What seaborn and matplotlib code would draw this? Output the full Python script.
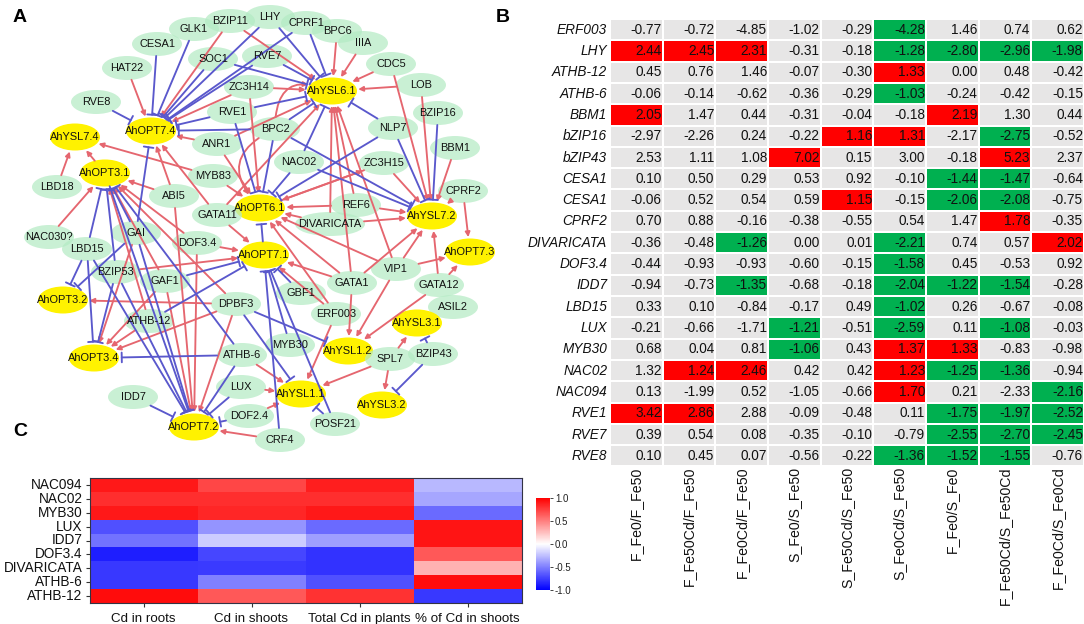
import numpy as np
import pandas as pd
import matplotlib
matplotlib.use("Agg")
import matplotlib.pyplot as plt
from matplotlib.colors import ListedColormap
from matplotlib.patches import Ellipse, FancyArrowPatch
import seaborn as sns

sns.set_theme(style="white")
plt.rcParams['font.family'] = ['Liberation Sans', 'DejaVu Sans']

# ---------- Panel B data ----------
b_genes = ["ERF003", "LHY", "ATHB-12", "ATHB-6", "BBM1", "bZIP16", "bZIP43", "CESA1", "CESA1", "CPRF2",
           "DIVARICATA", "DOF3.4", "IDD7", "LBD15", "LUX", "MYB30", "NAC02", "NAC094", "RVE1", "RVE7", "RVE8"]
b_comparisons = ["F_Fe0/F_Fe50", "F_Fe50Cd/F_Fe50", "F_Fe0Cd/F_Fe50", "S_Fe0/S_Fe50", "S_Fe50Cd/S_Fe50",
                 "S_Fe0Cd/S_Fe50", "F_Fe0/S_Fe0", "F_Fe50Cd/S_Fe50Cd", "F_Fe0Cd/S_Fe0Cd"]
b_values = [
    [-0.77, -0.72, -4.85, -1.02, -0.29, -4.28, 1.46, 0.74, 0.62],
    [2.44, 2.45, 2.31, -0.31, -0.18, -1.28, -2.80, -2.96, -1.98],
    [0.45, 0.76, 1.46, -0.07, -0.30, 1.33, 0.00, 0.48, -0.42],
    [-0.06, -0.14, -0.62, -0.36, -0.29, -1.03, -0.24, -0.42, -0.15],
    [2.05, 1.47, 0.44, -0.31, -0.04, -0.18, 2.19, 1.30, 0.44],
    [-2.97, -2.26, 0.24, -0.22, 1.16, 1.31, -2.17, -2.75, -0.52],
    [2.53, 1.11, 1.08, 7.02, 0.15, 3.00, -0.18, 5.23, 2.37],
    [0.10, 0.50, 0.29, 0.53, 0.92, -0.10, -1.44, -1.47, -0.64],
    [-0.06, 0.52, 0.54, 0.59, 1.15, -0.15, -2.06, -2.08, -0.75],
    [0.70, 0.88, -0.16, -0.38, -0.55, 0.54, 1.47, 1.78, -0.35],
    [-0.36, -0.48, -1.26, 0.00, 0.01, -2.21, 0.74, 0.57, 2.02],
    [-0.44, -0.93, -0.93, -0.60, -0.15, -1.58, 0.45, -0.53, 0.92],
    [-0.94, -0.73, -1.35, -0.68, -0.18, -2.04, -1.22, -1.54, -0.28],
    [0.33, 0.10, -0.84, -0.17, 0.49, -1.02, 0.26, -0.67, -0.08],
    [-0.21, -0.66, -1.71, -1.21, -0.51, -2.59, 0.11, -1.08, -0.03],
    [0.68, 0.04, 0.81, -1.06, 0.43, 1.37, 1.33, -0.83, -0.98],
    [1.32, 1.24, 2.46, 0.42, 0.42, 1.23, -1.25, -1.36, -0.94],
    [0.13, -1.99, 0.52, -1.05, -0.66, 1.70, 0.21, -2.33, -2.16],
    [3.42, 2.86, 2.88, -0.09, -0.48, 0.11, -1.75, -1.97, -2.52],
    [0.39, 0.54, 0.08, -0.35, -0.10, -0.79, -2.55, -2.70, -2.45],
    [0.10, 0.45, 0.07, -0.56, -0.22, -1.36, -1.52, -1.55, -0.76],
]
# highlight: 1 up (red), -1 down (green), 0 not highlighted
b_flags = [
    [0, 0, 0, 0, 0, -1, 0, 0, 0],
    [1, 1, 1, 0, 0, -1, -1, -1, -1],
    [0, 0, 0, 0, 0, 1, 0, 0, 0],
    [0, 0, 0, 0, 0, -1, 0, 0, 0],
    [1, 0, 0, 0, 0, 0, 1, 0, 0],
    [0, 0, 0, 0, 1, 1, 0, -1, 0],
    [0, 0, 0, 1, 0, 0, 0, 1, 0],
    [0, 0, 0, 0, 0, 0, -1, -1, 0],
    [0, 0, 0, 0, 1, 0, -1, -1, 0],
    [0, 0, 0, 0, 0, 0, 0, 1, 0],
    [0, 0, -1, 0, 0, -1, 0, 0, 1],
    [0, 0, 0, 0, 0, -1, 0, 0, 0],
    [0, 0, -1, 0, 0, -1, -1, -1, 0],
    [0, 0, 0, 0, 0, -1, 0, 0, 0],
    [0, 0, 0, -1, 0, -1, 0, -1, 0],
    [0, 0, 0, -1, 0, 1, 1, 0, 0],
    [0, 1, 1, 0, 0, 1, -1, -1, 0],
    [0, 0, 0, 0, 0, 1, 0, 0, -1],
    [1, 1, 0, 0, 0, 0, -1, -1, -1],
    [0, 0, 0, 0, 0, 0, -1, -1, -1],
    [0, 0, 0, 0, 0, -1, -1, -1, 0],
]

# ---------- Panel C data ----------
c_genes = ["NAC094", "NAC02", "MYB30", "LUX", "IDD7", "DOF3.4", "DIVARICATA", "ATHB-6", "ATHB-12"]
c_traits = ["Cd in roots", "Cd in shoots", "Total Cd in plants", "% of Cd in shoots"]
c_values = [
    [0.90, 0.72, 0.88, -0.28],
    [0.82, 0.82, 0.82, -0.35],
    [0.90, 0.85, 0.90, -0.58],
    [-0.68, -0.42, -0.58, 0.92],
    [-0.55, -0.20, -0.38, 0.92],
    [-0.88, -0.72, -0.80, 0.65],
    [-0.78, -0.77, -0.80, 0.30],
    [-0.78, -0.50, -0.68, 0.95],
    [0.95, 0.65, 0.80, -0.78],
]

# ---------- Panel A data ----------
transporters = ["AhOPT7.4", "AhYSL7.4", "AhOPT3.1", "AhYSL6.1", "AhOPT6.1", "AhYSL7.2", "AhOPT7.3", "AhOPT7.1",
                "AhOPT3.2", "AhOPT3.4", "AhOPT7.2", "AhYSL1.1", "AhYSL1.2", "AhYSL3.1", "AhYSL3.2"]
activates = {
    "AhOPT7.4": ["HAT22", "BZIP11", "ZC3H14", "ANR1", "ABI5", "GATA11"],
    "AhYSL7.4": ["LBD18", "AhOPT3.1", "MYB83"],
    "AhOPT3.1": ["NAC030?", "ABI5", "GAF1", "ATHB-12", "DOF3.4", "DPBF3"],
    "AhYSL6.1": ["BZIP11", "BPC6", "IIIA", "CDC5", "LOB", "ZC3H14", "ANR1", "GATA11", "REF6", "GATA1", "VIP1", "DIVARICATA"],
    "AhOPT6.1": ["ZC3H14", "ANR1", "MYB83", "DIVARICATA", "REF6", "GATA1", "ERF003", "VIP1", "ZC3H15"],
    "ZC3H15": ["AhOPT6.1"],
    "AhYSL7.2": ["CDC5", "LOB", "BBM1", "CPRF2", "ZC3H15", "REF6", "DIVARICATA", "GATA1", "VIP1", "GATA12"],
    "AhOPT7.3": ["CPRF2", "VIP1", "GATA12"],
    "AhOPT7.1": ["DOF3.4", "BZIP53", "GATA11", "GATA1", "ERF003"],
    "AhOPT3.2": ["DPBF3"],
    "AhOPT3.4": ["GAF1", "ATHB-12", "DPBF3", "GAI"],
    "AhOPT7.2": ["GAF1", "DOF3.4", "DPBF3", "ABI5", "CRF4"],
    "AhYSL1.1": ["SPL7", "ERF003", "ATHB-6", "LUX", "DOF2.4"],
    "AhYSL1.2": ["GATA1", "VIP1", "GATA12"],
    "AhYSL3.1": ["SPL7"],
    "AhYSL3.2": ["SPL7"],
}
represses = {
    "AhOPT7.4": ["RVE8", "CESA1", "GLK1", "SOC1", "LHY", "CPRF1", "RVE1", "RVE7", "BPC2", "GAI"],
    "AhOPT3.1": ["LBD15", "GAI", "BZIP53", "ATHB-6"],
    "AhYSL6.1": ["RVE7", "LHY", "CPRF1", "SOC1", "RVE1", "BPC2", "NAC02", "NLP7"],
    "AhOPT6.1": ["NAC02", "BPC2", "RVE1", "NLP7", "AhOPT7.1"],
    "AhYSL7.2": ["BZIP16", "NLP7", "NAC02", "BPC2"],
    "AhOPT7.1": ["GAF1", "ATHB-12", "GBF1", "MYB30", "CRF4", "POSF21"],
    "AhOPT3.2": ["LBD15", "GAI"],
    "AhOPT3.4": ["LBD15", "BZIP53", "ATHB-6"],
    "AhOPT7.2": ["IDD7", "LBD15", "BZIP53", "GAI", "ATHB-6", "LUX", "DOF2.4", "AhOPT3.1"],
    "AhYSL1.1": ["DPBF3", "POSF21"],
    "AhYSL1.2": ["DPBF3"],
    "AhYSL3.1": ["BZIP43"],
    "AhYSL3.2": ["BZIP43"],
}
curved_activates = [("BPC2", "AhYSL6.1", -0.75), ("BPC2", "AhOPT6.1", 0.7)]

# ---------- Network layout (pixels of the figure) ----------
layout = {
    "BZIP11": (230, 21), "GLK1": (194, 29), "CESA1": (157, 44), "SOC1": (213, 59), "HAT22": (127, 68),
    "ZC3H14": (249, 87), "RVE8": (96, 102), "RVE1": (232, 112), "AhOPT7.4": (151, 131), "ANR1": (217, 144),
    "AhYSL7.4": (75, 137), "AhOPT3.1": (105, 173), "LBD18": (57, 187), "MYB83": (213, 176), "ABI5": (174, 196),
    "LHY": (270, 17), "CPRF1": (306, 23), "BPC6": (337, 31), "IIIA": (363, 43), "CDC5": (391, 64),
    "LOB": (421, 85), "RVE7": (267, 56), "AhYSL6.1": (332, 91), "BZIP16": (438, 113), "NLP7": (393, 128),
    "BPC2": (275, 129), "BBM1": (455, 148), "NAC02": (299, 162), "ZC3H15": (384, 163), "CPRF2": (463, 191),
    "REF6": (356, 205), "AhOPT6.1": (260, 208), "NAC030?": (49, 237), "LBD15": (87, 249), "GAI": (136, 233),
    "DOF3.4": (197, 243), "GATA11": (217, 215), "BZIP53": (116, 272), "GAF1": (165, 281), "AhOPT3.2": (63, 300),
    "DPBF3": (236, 304), "ATHB-12": (149, 321), "AhOPT3.4": (94, 358), "ATHB-6": (242, 355), "IDD7": (133, 397),
    "LUX": (241, 387), "AhOPT7.1": (264, 255), "DIVARICATA": (330, 224), "AhYSL7.2": (432, 216),
    "AhOPT7.3": (470, 252), "GATA1": (352, 283), "VIP1": (396, 269), "GATA12": (439, 285), "GBF1": (301, 293),
    "ASIL2": (453, 307), "ERF003": (336, 314), "AhYSL3.1": (417, 323), "AhYSL1.2": (348, 351), "MYB30": (290, 345),
    "SPL7": (390, 359), "BZIP43": (433, 354), "AhYSL1.1": (301, 394), "AhYSL3.2": (382, 405),
    "AhOPT7.2": (194, 427), "DOF2.4": (249, 416), "CRF4": (280, 440), "POSF21": (335, 424),
}

W, H = 1084, 624
fig = plt.figure(figsize=(W / 100, H / 100), dpi=100, facecolor="white")


def axes_px(left, top, right, bottom):
    return fig.add_axes([left / W, 1 - bottom / H, (right - left) / W, (bottom - top) / H])


# ---------- Panel A ----------
ax_a = axes_px(0, 0, 500, 470)
ax_a.set_xlim(0, 500)
ax_a.set_ylim(470, 0)
ax_a.axis("off")
nodes = {}
for name, (x, y) in layout.items():
    is_t = name in transporters
    w = max(50, 7.0 * len(name))
    e = Ellipse((x, y), 50 if is_t else w, 27 if is_t else 24,
                facecolor="#FFF200" if is_t else "#B4EBC4",
                edgecolor="none", alpha=1 if is_t else 0.72, zorder=1)
    ax_a.add_patch(e)
    nodes[name] = e
    ax_a.text(x, y, name, ha="center", va="center", fontsize=7.9, color="#111111", zorder=4)

RED, BLUE = "#E5666F", "#5A58CC"
LW = 1.35
for target, sources in activates.items():
    for s in sources:
        ax_a.add_patch(FancyArrowPatch(layout[s], layout[target], patchA=nodes[s], patchB=nodes[target],
                                       arrowstyle="-|>", mutation_scale=7, lw=LW, color=RED,
                                       shrinkA=0, shrinkB=1, zorder=2))
for target, sources in represses.items():
    for s in sources:
        ax_a.add_patch(FancyArrowPatch(layout[s], layout[target], patchA=nodes[s], patchB=nodes[target],
                                       arrowstyle="-[,widthB=3.5,lengthB=0", mutation_scale=1, lw=LW, color=BLUE,
                                       shrinkA=0, shrinkB=2, zorder=3))
for s, target, rad in curved_activates:
    ax_a.add_patch(FancyArrowPatch(layout[s], layout[target], patchA=nodes[s], patchB=nodes[target],
                                   connectionstyle=f"arc3,rad={rad}", arrowstyle="-|>", mutation_scale=7,
                                   lw=LW, color=RED, shrinkA=0, shrinkB=1, zorder=2))

# ---------- Panel B ----------
ax_b = axes_px(610, 19, 1084, 466.5)
flags_df = pd.DataFrame(b_flags, index=b_genes, columns=b_comparisons)
vals_df = pd.DataFrame(b_values, index=b_genes, columns=b_comparisons)
sns.heatmap(flags_df, ax=ax_b, cmap=ListedColormap(["#00B050", "#E7E6E6", "#FF0000"]), vmin=-1, vmax=1,
            cbar=False, linewidths=1.1, linecolor="white", annot=vals_df, fmt=".2f",
            xticklabels=True, yticklabels=True,
            annot_kws={"fontsize": 9.8, "color": "#111111"})
for t in ax_b.texts:
    x, y = t.get_position()
    t.set_position((x + 0.48, y))
    t.set_ha("right")
ax_b.tick_params(axis="y", length=0, pad=2)
ax_b.tick_params(axis="x", length=0, pad=0)
ax_b.set_yticklabels(b_genes, rotation=0, fontsize=9.8, style="italic", color="#111111")
ax_b.set_xticklabels(b_comparisons, rotation=90, fontsize=10.2, color="#111111")

# ---------- Panel C ----------
ax_c = axes_px(89.5, 478, 521.5, 603)
ax_cb = axes_px(536, 498, 550, 590)
c_df = pd.DataFrame(c_values, index=c_genes, columns=c_traits)
sns.heatmap(c_df, ax=ax_c, cmap="bwr", vmin=-1, vmax=1, cbar_ax=ax_cb, xticklabels=True, yticklabels=True,
            cbar_kws={"ticks": [-1, -0.5, 0, 0.5, 1]})
ax_c.tick_params(axis="y", length=3, width=0.8, color="#333333", pad=2, left=True)
ax_c.tick_params(axis="x", length=3, width=0.8, color="#333333", pad=4, bottom=True)
ax_c.set_yticklabels(c_genes, rotation=0, fontsize=9.8, color="#111111")
ax_c.set_xticklabels(c_traits, rotation=0, fontsize=9.6, color="#111111")
for sp in ax_c.spines.values():
    sp.set_visible(True)
    sp.set_color("#333344")
    sp.set_linewidth(0.8)
ax_cb.tick_params(length=2, width=0.6, labelsize=7, pad=1.5, right=True, labelcolor="#222222")
ax_cb.set_yticklabels(["-1.0", "-0.5", "0.0", "0.5", "1.0"])

# ---------- Panel letters ----------
for letter, x, y in [("A", 20, 17), ("B", 503, 17), ("C", 20, 432)]:
    fig.text(x / W, 1 - y / H, letter, fontsize=14, fontweight="bold", ha="center", va="center", color="black")

fig.savefig("out.png", dpi=100, facecolor="white")
